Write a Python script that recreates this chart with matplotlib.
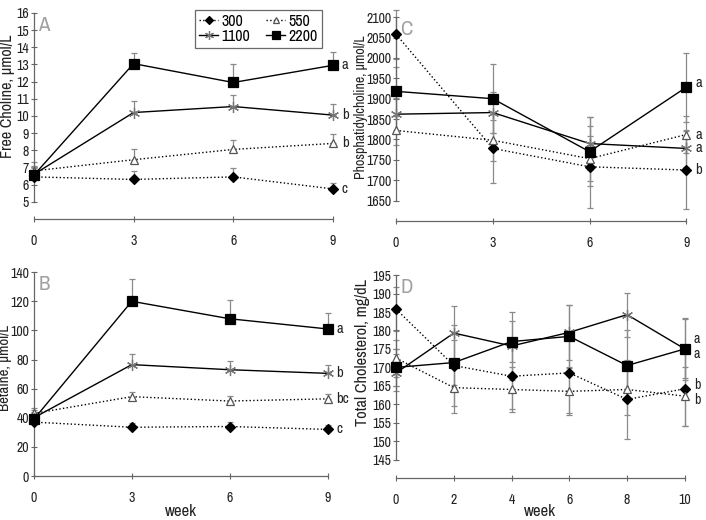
import matplotlib
matplotlib.use('Agg')
import matplotlib.pyplot as plt
from matplotlib import font_manager
import numpy as np

names = {f.name for f in font_manager.fontManager.ttflist}
prefs = ['Liberation Sans Narrow', 'Arial Narrow', 'Archivo Narrow', 'PT Sans Narrow',
         'Roboto Condensed', 'Fira Sans Condensed', 'IBM Plex Sans Condensed',
         'Encode Sans Condensed', 'Open Sans Condensed', 'Liberation Sans']
fam = next(p for p in prefs if p in names)
plt.rcParams['font.family'] = [fam, 'DejaVu Sans']

doses = ['300', '550', '1100', '2200']

# panel A: free choline
weeks_a = [0, 3, 6, 9]
fc_300 = [6.45, 6.3, 6.45, 5.75]
fc_550 = [6.8, 7.45, 8.05, 8.4]
fc_1100 = [6.6, 10.2, 10.55, 10.05]
fc_2200 = [6.55, 13.05, 11.95, 12.95]
fc_err_300 = [0.5, 0.5, 0.5, 0.35]
fc_err_550 = [0.5, 0.65, 0.55, 0.55]
fc_err_1100 = [0.5, 0.7, 0.7, 0.65]
fc_err_2200 = [0.5, 0.6, 1.05, 0.8]
fc_letters = ['c', 'b', 'b', 'a']

# panel B: betaine
bet_300 = [37, 33.5, 34, 32]
bet_550 = [43, 54.5, 51.5, 53]
bet_1100 = [40, 76.5, 73, 70.5]
bet_2200 = [39, 120, 108, 101]
bet_err_300 = [3, 3, 3, 3]
bet_err_550 = [4, 3.5, 3.5, 3.5]
bet_err_1100 = [5, 7, 6, 6]
bet_err_2200 = [5, 15, 13, 11]
bet_letters = ['c', 'bc', 'b', 'a']

# panel C: phosphatidylcholine
pc_300 = [2058, 1778, 1733, 1725]
pc_550 = [1822, 1798, 1753, 1812]
pc_1100 = [1862, 1866, 1790, 1778]
pc_2200 = [1918, 1900, 1770, 1928]
pc_err_300 = [60, 85, 100, 95]
pc_err_550 = [35, 50, 55, 45]
pc_err_1100 = [40, 50, 65, 45]
pc_err_2200 = [60, 85, 85, 85]
pc_letters = ['b', 'a', 'a', 'a']

# panel D: total cholesterol
weeks_d = [0, 2, 4, 6, 8, 10]
tc_300 = [185.8, 170.5, 167.6, 168.5, 161.3, 164.2]
tc_550 = [172.5, 164.5, 164.0, 163.5, 164.0, 162.2]
tc_1100 = [168.5, 179.3, 175.8, 179.5, 184.3, 175.0]
tc_2200 = [170.0, 171.3, 177.0, 178.4, 170.5, 175.0]
tc_err_300 = [6, 11, 9, 11, 10.8, 10]
tc_err_550 = [5, 7, 6, 6.5, 7, 8]
tc_err_1100 = [5, 7.4, 9.2, 7.5, 6, 8.3]
tc_err_2200 = [5, 6, 5.5, 8.5, 9.5, 8]
tc_letters = ['b', 'b', 'a', 'a']

styles = {
    '300': dict(ls=':', marker='D', ms=5, mfc='black', mec='black'),
    '550': dict(ls=':', marker='^', ms=6, mfc='white', mec='#555555'),
    '1100': dict(ls='-', marker=(6, 2, 0), ms=8, mfc='none', mec='#777777'),
    '2200': dict(ls='-', marker='s', ms=6.5, mfc='black', mec='black'),
}

W, H = 706, 520
fig = plt.figure(figsize=(W / 100, H / 100), dpi=100)
axA = fig.add_axes([0.048, 0.579, 0.4235, 0.396])
axC = fig.add_axes([0.561, 0.575, 0.411, 0.392])
axB = fig.add_axes([0.048, 0.0846, 0.416, 0.392])
axD = fig.add_axes([0.561, 0.0808, 0.409, 0.390])


def panel(ax, x, series, errs, letters, letter_pos, one_sided, ylim, ybounds, yticks,
          xticks, ylabel, ylab_size, ylab_xy, tag, xlabel=None, letter_size=10.5):
    for d, y, e in zip(doses, series, errs):
        st = styles[d]
        if one_sided:
            yerr = [np.zeros(len(e)), e]
        else:
            yerr = e
        ax.errorbar(x, y, yerr=yerr, fmt='none', ecolor='#8a8a8a', elinewidth=0.9,
                    capsize=2, capthick=0.9, clip_on=False, zorder=2)
        ax.plot(x, y, color='black', lw=1.0, ls=st['ls'], marker=st['marker'],
                ms=st['ms'], mfc=st['mfc'], mec=st['mec'], mew=0.9,
                clip_on=False, zorder=3, label=d)
    for lt, yp in zip(letters, letter_pos):
        ax.annotate(lt, (x[-1], yp), xytext=(9, 0), textcoords='offset pixels',
                    fontsize=letter_size, va='center', ha='left', color='#222222',
                    annotation_clip=False)
    ax.set_xlim(x[0], x[-1])
    ax.set_ylim(*ylim)
    ax.set_xticks(xticks)
    ax.set_yticks(yticks)
    ax.spines['top'].set_visible(False)
    ax.spines['right'].set_visible(False)
    ax.spines['left'].set_bounds(*ybounds)
    for s in ('left', 'bottom'):
        ax.spines[s].set_color('#666666')
        ax.spines[s].set_linewidth(0.9)
    ax.tick_params(axis='both', direction='inout', length=5, width=0.8, color='#666666',
                   labelsize=10, labelcolor='#222222')
    ax.tick_params(axis='y', pad=1)
    ax.tick_params(axis='x', pad=8)
    ax.set_ylabel(ylabel, fontsize=ylab_size, color='#222222', va='center')
    ax.yaxis.set_label_coords(ylab_xy[0] / W, 1 - ylab_xy[1] / H, transform=fig.transFigure)
    if xlabel:
        bb = ax.get_position()
        ax.set_xlabel(xlabel, fontsize=12, color='#222222', va='center')
        ax.xaxis.set_label_coords(bb.x0 + bb.width / 2, 1 - 511 / H,
                                  transform=fig.transFigure)
    ax.text(0.015, 0.985, tag, transform=ax.transAxes, fontsize=15, color='#a0a0a0',
            va='top', ha='left')


panel(axA, weeks_a, [fc_300, fc_550, fc_1100, fc_2200],
      [fc_err_300, fc_err_550, fc_err_1100, fc_err_2200],
      fc_letters, [5.75, 8.4, 10.05, 12.95], True, (4, 16), (5, 16), range(5, 17),
      weeks_a, 'Free Choline, µmol/L', 11.6, (8, 96), 'A')
panel(axB, weeks_a, [bet_300, bet_550, bet_1100, bet_2200],
      [bet_err_300, bet_err_550, bet_err_1100, bet_err_2200],
      bet_letters, [32, 53, 70.5, 101], True, (0, 140), (0, 140), range(0, 141, 20),
      weeks_a, 'Betaine, µmol/L', 10.8, (5, 368), 'B', xlabel='week')
panel(axC, weeks_a, [pc_300, pc_550, pc_1100, pc_2200],
      [pc_err_300, pc_err_550, pc_err_1100, pc_err_2200],
      pc_letters, [1725, 1812, 1778, 1938], False, (1600, 2100), (1650, 2100),
      range(1650, 2101, 50), weeks_a, 'Phosphatidylcholine, µmol/L', 10, (361, 107), 'C')
panel(axD, weeks_d, [tc_300, tc_550, tc_1100, tc_2200],
      [tc_err_300, tc_err_550, tc_err_1100, tc_err_2200],
      tc_letters, [165.3, 161.1, 173.7, 177.7], False, (140, 195), (145, 195),
      range(145, 196, 5), weeks_d, 'Total Cholesterol, mg/dL', 11.8, (363, 353), 'D',
      xlabel='week', letter_size=10)

h, l = axA.get_legend_handles_labels()
order = [0, 2, 1, 3]
leg = axA.legend([h[i] for i in order], [l[i] for i in order], ncol=2,
                 loc='upper right', bbox_to_anchor=(0.99, 1.055), fontsize=11.5,
                 frameon=True, fancybox=False, edgecolor='#444444',
                 handlelength=1.2, handletextpad=0.2, columnspacing=1.0,
                 borderpad=0.25, labelspacing=0.0, markerscale=0.8)
leg.get_frame().set_linewidth(0.9)

fig.savefig('out.png', dpi=100)
